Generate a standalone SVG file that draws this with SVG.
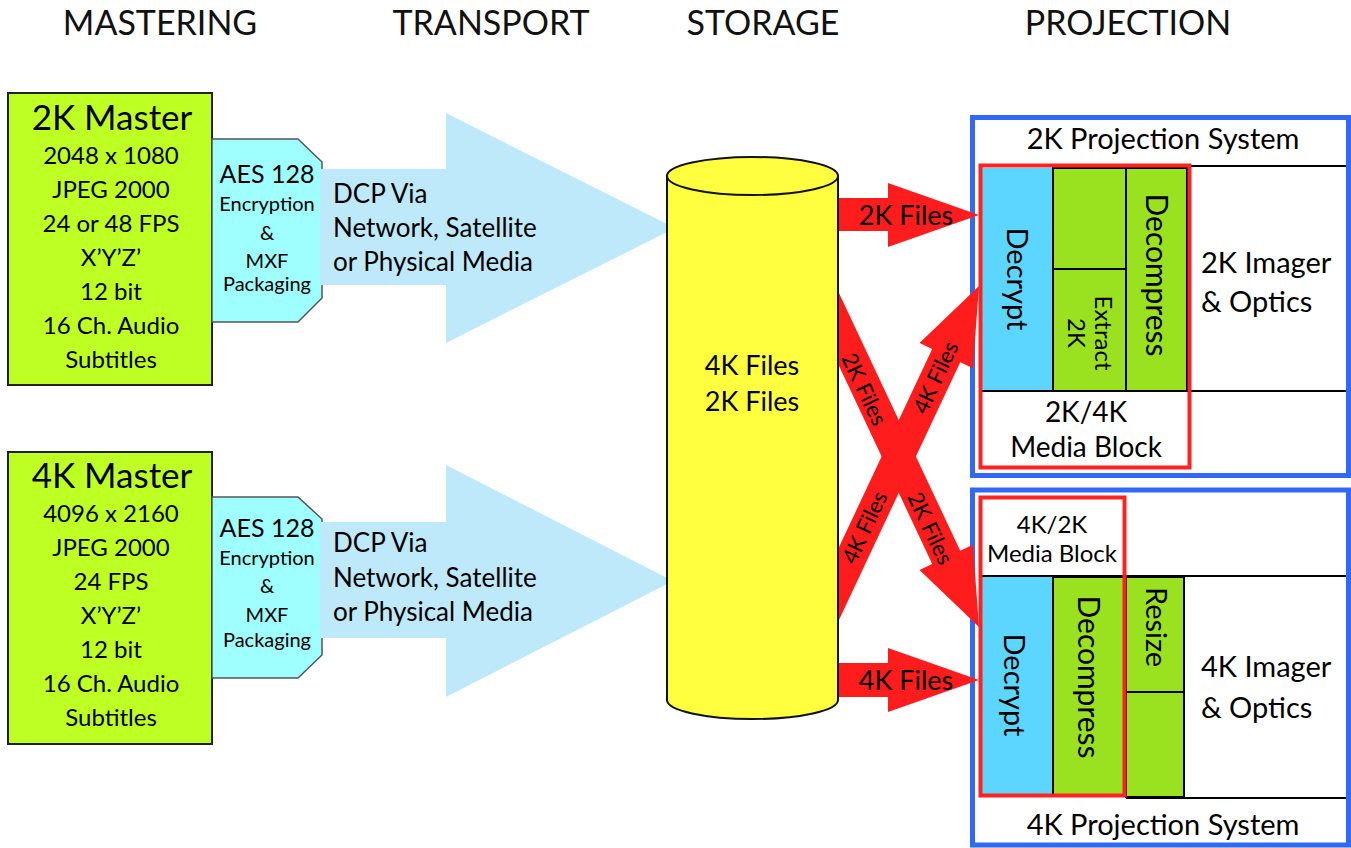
<svg xmlns="http://www.w3.org/2000/svg" width="1351" height="848" viewBox="0 0 1351 848">
<defs>
<style>
text{font-family:Lato,"Open Sans","DejaVu Sans",sans-serif;fill:#000}
.hdr{font-size:34px;text-anchor:middle;fill:#111}
.m{text-anchor:middle}
.big{font-size:35px}
.mline{font-size:24px}
.aes{font-size:25px}
.aes2{font-size:20px}
.tr{font-size:26px}
.lbl{font-size:27px}
.rl{font-size:22px;text-anchor:middle;dominant-baseline:central}
.rot{text-anchor:middle;dominant-baseline:central}
.master{fill:#BEFF24;stroke:#222;stroke-width:2}
.aesbox{fill:#9FFFFF;stroke:#555;stroke-width:1.5}
.tarrow{fill:#BEE9FA}
.rarrow{fill:#FF1C1C}
.blue{fill:#fff;stroke:#3168F5;stroke-width:5}
.red{fill:none;stroke:#FF2222;stroke-width:4}
.dec{fill:#5DD6FF}
.grn{fill:#9AE21F;stroke:#000;stroke-width:2}
.ln{stroke:#000;stroke-width:2;fill:none}
</style>
<polygon id="diagArrow" points="0,0 -77,-29.5 -77,-15.5 -390,-15.5 -390,15.5 -77,15.5 -77,29.5"/>
</defs>
<rect width="1351" height="848" fill="#fff"/>

<g id="headers">
<text class="hdr" x="160" y="35">MASTERING</text>
<text class="hdr" x="491" y="35">TRANSPORT</text>
<text class="hdr" x="763" y="35">STORAGE</text>
<text class="hdr" x="1128" y="35">PROJECTION</text>
</g>

<g id="master2k">
<rect class="master" x="8" y="93" width="204" height="292"/>
<text class="m big" x="112" y="130">2K Master</text>
<text class="m mline" x="111" y="164">2048 x 1080</text>
<text class="m mline" x="111" y="198">JPEG 2000</text>
<text class="m mline" x="111" y="232">24 or 48 FPS</text>
<text class="m mline" x="111" y="266">X’Y’Z’</text>
<text class="m mline" x="111" y="300">12 bit</text>
<text class="m mline" x="111" y="334">16 Ch. Audio</text>
<text class="m mline" x="111" y="368">Subtitles</text>
</g>

<g id="aes2k">
<polygon class="aesbox" points="212,139 298,139 322,162 322,298 298,322 212,322"/>
<text class="m aes" x="267" y="183">AES 128</text>
<text class="m aes2" x="267" y="211">Encryption</text>
<text class="m aes2" x="267" y="240">&amp;</text>
<text class="m aes2" x="267" y="268">MXF</text>
<text class="m aes2" x="267" y="291">Packaging</text>
</g>

<g id="master4k">
<rect class="master" x="8" y="452" width="204" height="292"/>
<text class="m big" x="112" y="488">4K Master</text>
<text class="m mline" x="111" y="522">4096 x 2160</text>
<text class="m mline" x="111" y="556">JPEG 2000</text>
<text class="m mline" x="111" y="590">24 FPS</text>
<text class="m mline" x="111" y="624">X’Y’Z’</text>
<text class="m mline" x="111" y="658">12 bit</text>
<text class="m mline" x="111" y="692">16 Ch. Audio</text>
<text class="m mline" x="111" y="726">Subtitles</text>
</g>

<g id="aes4k">
<polygon class="aesbox" points="212,497 298,497 322,519 322,655 298,678 212,678"/>
<text class="m aes" x="267" y="537">AES 128</text>
<text class="m aes2" x="267" y="565">Encryption</text>
<text class="m aes2" x="267" y="593">&amp;</text>
<text class="m aes2" x="267" y="622">MXF</text>
<text class="m aes2" x="267" y="647">Packaging</text>
</g>

<g id="proj2k">
<rect class="blue" x="972.5" y="117.5" width="376" height="358"/>
<text class="m" style="font-size:29px" x="1163" y="149">2K Projection System</text>
<line class="ln" x1="1190" y1="166" x2="1346" y2="166"/>
<rect class="dec" x="982" y="168" width="71" height="223"/>
<rect class="grn" x="1053" y="168" width="73" height="101"/>
<rect class="grn" x="1053" y="269" width="73" height="122"/>
<rect class="grn" x="1126" y="168" width="61" height="223"/>
<line class="ln" x1="982" y1="391" x2="1346" y2="391"/>
<line class="ln" x1="1053" y1="168" x2="1053" y2="391"/>
<rect class="red" x="980.5" y="165.5" width="209" height="302"/>
<text class="rot" style="font-size:29px" transform="translate(1018,279) rotate(90)">Decrypt</text>
<text class="rot" style="font-size:30px" transform="translate(1158,275) rotate(90)">Decompress</text>
<g transform="translate(1091,333) rotate(90)">
<text class="rot" style="font-size:24px" x="0" y="-13.5">Extract</text>
<text class="rot" style="font-size:24px" x="0" y="13.5">2K</text>
</g>
<text class="m" style="font-size:28px" x="1086" y="422">2K/4K</text>
<text class="m" style="font-size:28px" x="1086" y="457">Media Block</text>
<text style="font-size:29px" x="1201" y="273">2K Imager</text>
<text style="font-size:29px" x="1201" y="312">&amp; Optics</text>
</g>

<g id="proj4k">
<rect class="blue" x="972.5" y="490" width="376" height="355"/>
<line class="ln" x1="1126" y1="576" x2="1346" y2="576"/>
<rect class="dec" x="981" y="577" width="72" height="219"/>
<rect class="grn" x="1053" y="577" width="72" height="219"/>
<rect class="grn" x="1126" y="577" width="58" height="115"/>
<rect class="grn" x="1126" y="692" width="58" height="105"/>
<line class="ln" x1="982" y1="576" x2="1126" y2="576"/>
<line class="ln" x1="1126" y1="798" x2="1346" y2="798"/>
<rect class="red" x="980.5" y="497.5" width="144" height="298"/>
<text class="m" style="font-size:24px" x="1052" y="533">4K/2K</text>
<text class="m" style="font-size:24px" x="1052" y="562">Media Block</text>
<text class="rot" style="font-size:29px" transform="translate(1015,685) rotate(90)">Decrypt</text>
<text class="rot" style="font-size:30px" transform="translate(1090,677) rotate(90)">Decompress</text>
<text class="rot" style="font-size:29px" transform="translate(1157,627) rotate(90)">Resize</text>
<text style="font-size:29px" x="1201" y="677">4K Imager</text>
<text style="font-size:29px" x="1201" y="718">&amp; Optics</text>
<text class="m" style="font-size:29px" x="1163" y="835">4K Projection System</text>
</g>

<g id="connectors">
<polygon class="tarrow" points="320,169 446,169 446,113 675,228 446,343 446,285 320,285"/>
<text class="tr" x="333" y="203">DCP Via</text>
<text class="tr" x="333" y="237">Network, Satellite</text>
<text class="tr" x="333" y="271">or Physical Media</text>
<polygon class="tarrow" points="320,522 446,522 446,465 673,581 446,697 446,638 320,638"/>
<text class="tr" x="333" y="552">DCP Via</text>
<text class="tr" x="333" y="587">Network, Satellite</text>
<text class="tr" x="333" y="621">or Physical Media</text>

<polygon class="rarrow" points="820,198 888,198 888,183 979,215 888,247 888,231 820,231"/>
<text class="m lbl" x="906" y="225">2K Files</text>
<polygon class="rarrow" points="820,663 888,663 888,648 979,680 888,712 888,697 820,697"/>
<text class="m lbl" x="906" y="690">4K Files</text>

<use href="#diagArrow" class="rarrow" transform="translate(979,627) rotate(64.8)"/>
<use href="#diagArrow" class="rarrow" transform="translate(979,286) rotate(-64.8)"/>
<text class="rl" transform="translate(865,389) rotate(64.8)">2K Files</text>
<text class="rl" transform="translate(931,528) rotate(64.8)">2K Files</text>
<text class="rl" transform="translate(935,377) rotate(-64.8)">4K Files</text>
<text class="rl" transform="translate(864,527) rotate(-64.8)">4K Files</text>
</g>

<g id="storage">
<path d="M667,176 L667,700 A85.5,19 0 0 0 838,700 L838,176 Z" fill="#FFFF40" stroke="#111" stroke-width="2"/>
<ellipse cx="752.5" cy="176" rx="85.5" ry="19" fill="#FFFF40" stroke="#111" stroke-width="2"/>
<text class="m lbl" x="752" y="375">4K Files</text>
<text class="m lbl" x="752" y="411">2K Files</text>
</g>
</svg>
